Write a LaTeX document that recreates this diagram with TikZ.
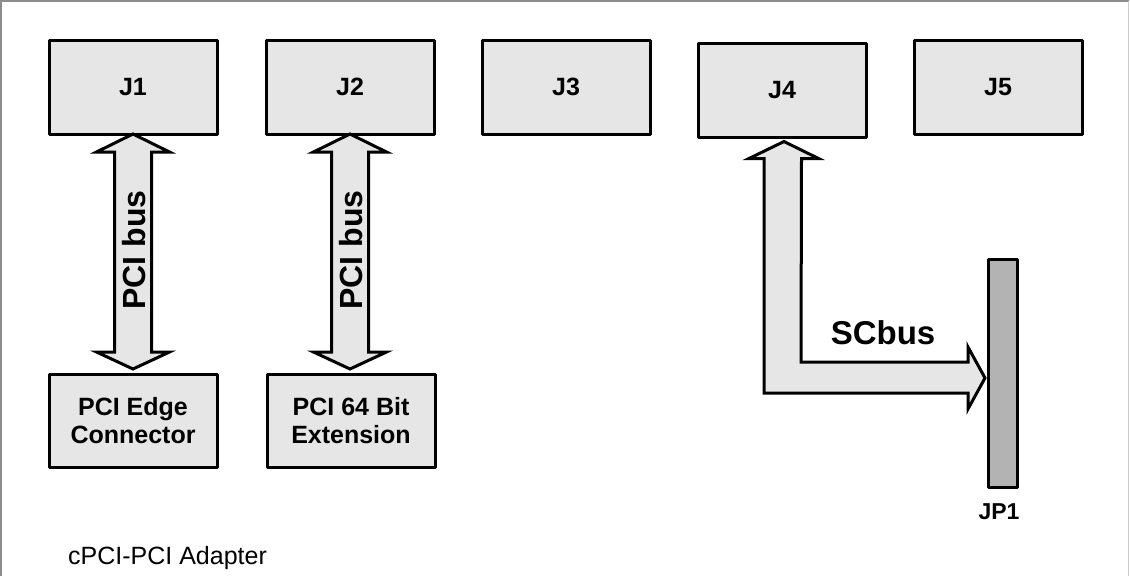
\documentclass[tikz,border=0pt]{standalone}
\usepackage{fontspec}
\setmainfont{Liberation Sans}
\usetikzlibrary{calc}
\definecolor{boxfill}{RGB}{230,230,230}
\definecolor{jpfill}{RGB}{179,179,179}
\definecolor{framegray}{RGB}{140,140,140}
\definecolor{framelight}{RGB}{205,205,205}
\begin{document}
\begin{tikzpicture}[x=1pt,y=-1pt,
  conn/.style={draw=black, line width=3pt, fill=boxfill, minimum width=168pt,
    minimum height=94pt, inner sep=0pt, outer sep=0pt, line join=round,
    font=\bfseries\fontsize{25}{29}\selectfont, align=center},
  lowbox/.style={conn, minimum height=93pt, font=\bfseries\fontsize{25}{28}\selectfont},
  fatarrow/.style={draw=black, line width=3pt, fill=boxfill, line join=miter},
  buslabel/.style={font=\bfseries\fontsize{32}{36}\selectfont, inner sep=0pt},
  plainlabel/.style={font=\fontsize{25}{29}\selectfont, inner sep=0pt}]
\useasboundingbox (0,0) rectangle (1130,576);
% frame
\draw[framegray, line width=1.2pt] (1,576) -- (1,1) -- (1129,1);
\draw[framelight, line width=1.2pt] (1128.5,1) -- (1128.5,576);

% connectors
\node[conn] (j1) at (133,87) {J1};
\node[conn] (j2) at (350,87) {J2};
\node[conn] (j3) at (566,87) {J3};
\node[conn] (j4) at (782,90.5) {J4};
\node[conn] (j5) at (998,87) {J5};
\node[lowbox] (e1) at (133,420.5) {PCI Edge\\Connector};
\node[lowbox] (e2) at (351,420.5) {PCI 64 Bit\\Extension};
\node[draw=black, line width=3pt, fill=jpfill, minimum width=29pt, minimum height=228pt,
  inner sep=0pt, outer sep=0pt, line join=round] (jp1) at (1003,373.5) {};

% PCI bus double arrows
\draw[fatarrow] (j1.south) -- ++(36.5,18) -- ++(-18,0)
  -- ($(e1.north)+(18.5,-22)$) -- ++(18,0) -- ($(e1.north)+(0,-5)$)
  -- ($(e1.north)+(-36.5,-22)$) -- ++(18,0) -- ($(j1.south)+(-18.5,18)$)
  -- ++(-18,0) -- cycle;
\draw[fatarrow] (j2.south) -- ++(36.5,18) -- ++(-18,0)
  -- ($(e2.north)+(17.5,-22)$) -- ++(18,0) -- ($(e2.north)+(-1,-5)$)
  -- ($(e2.north)+(-37.5,-22)$) -- ++(18,0) -- ($(j2.south)+(-18.5,18)$)
  -- ++(-18,0) -- cycle;

% SCbus L-shaped arrow
\coordinate (t4) at ($(j4.south)+(2,4)$);
\coordinate (t4r) at ($(t4)+(17,0)$);
\coordinate (tj) at ($(jp1.west)+(-3.5,4.5)$);
\draw[fatarrow] (t4) -- ++(34.5,17) -- ++(-17,0) -- (t4r |- 0,362)
  -- ($(tj |- 0,362)+(-17,0)$) -- ++(0,-15) -- (tj) -- ++(-17,31)
  -- ++(0,-16) -- ($(t4 |- tj)+(-20,15)$) -- ($(t4)+(-20,17)$) -- ++(-15,0) -- cycle;

% labels
\node[buslabel, rotate=90] (l1) at (134,250) {PCI bus};
\node[buslabel, rotate=90] (l2) at (351,250) {PCI bus};
\node[font=\bfseries\fontsize{33}{36}\selectfont, inner sep=0pt] (sc) at (883,333) {SCbus};
\node[font=\bfseries\fontsize{23}{26}\selectfont, inner sep=0pt] (jpl) at (999,512) {JP1};
\node[plainlabel, anchor=base west] (title) at (68,564) {cPCI-PCI Adapter};
\end{tikzpicture}
\end{document}
